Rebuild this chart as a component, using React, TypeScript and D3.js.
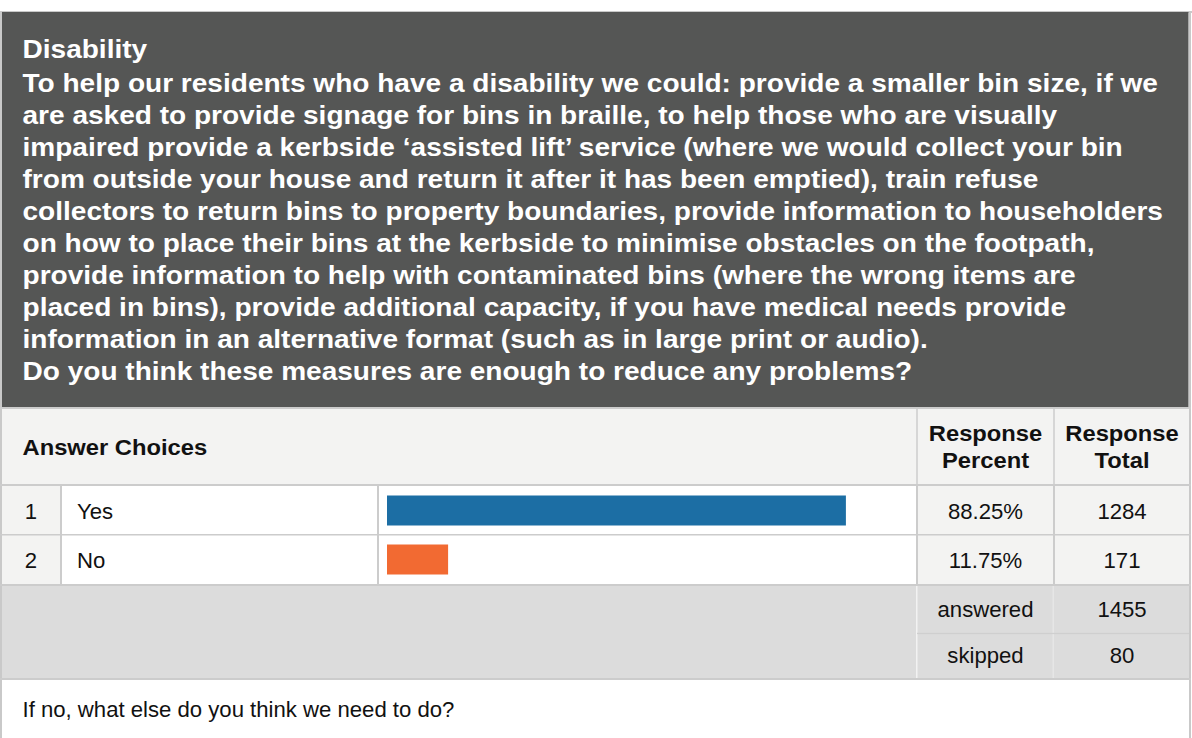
import React from "react";
import * as d3 from "d3";

const titleHeading = "Disability";
const titleLines = [
  "To help our residents who have a disability we could: provide a smaller bin size, if we",
  "are asked to provide signage for bins in braille, to help those who are visually",
  "impaired provide a kerbside \u2018assisted lift\u2019 service (where we would collect your bin",
  "from outside your house and return it after it has been emptied), train refuse",
  "collectors to return bins to property boundaries, provide information to householders",
  "on how to place their bins at the kerbside to minimise obstacles on the footpath,",
  "provide information to help with contaminated bins (where the wrong items are",
  "placed in bins), provide additional capacity, if you have medical needs provide",
  "information in an alternative format (such as in large print or audio).",
  "Do you think these measures are enough to reduce any problems?",
];
const choiceNumbers = ["1", "2"];
const choices = ["Yes", "No"];
const percents = [88.25, 11.75];
const totals = [1284, 171];
const barColors = ["#1c6ea4", "#f26a32"];
const summaryLabels = ["answered", "skipped"];
const summaryValues = [1455, 80];
const headerLabel = "Answer Choices";
const percentHeader = ["Response", "Percent"];
const totalHeader = ["Response", "Total"];
const followUp = "If no, what else do you think we need to do?";

const FONT = '"Liberation Sans", Arial, Helvetica, sans-serif';

function T({ x, y, anchor = "start", size = 21.5, sx = 1.03, weight = "normal", fill = "#111", children }: any) {
  return (
    <text
      transform={`translate(${x},${y}) scale(${sx},1)`}
      textAnchor={anchor}
      fontSize={size}
      fontWeight={weight}
      fill={fill}
      fontFamily={FONT}
    >
      {children}
    </text>
  );
}

export default function App() {
  const W = 1192;
  const H = 738;
  const x = d3.scaleLinear().domain([0, 100]).range([387, 907]);
  const y = d3.scaleBand<string>().domain(choices).range([486, 584]).paddingInner(0).paddingOuter(0);
  const sumY = d3.scaleBand<string>().domain(summaryLabels).range([586, 679]);
  const bw = y.bandwidth();
  const barH = 30;
  const border = "#cccccc";
  const light = "#f3f3f2";
  const grey = "#dcdcdc";
  const pctX = 985.5;
  const totX = 1122;

  return (
    <svg width={W} height={H} style={{ position: "absolute", left: 0, top: 0, display: "block" }}>
      <rect x={0} y={0} width={W} height={H} fill="#ffffff" />
      <rect x={0} y={11} width={1192} height={2} fill="#c9c9c9" />
      <rect x={0} y={11} width={2} height={H - 11} fill="#c9c9c9" />
      <rect x={1189} y={11} width={2} height={H - 11} fill="#c9c9c9" />
      <rect x={2} y={12} width={1186.5} height={395} fill="#555655" />
      <T x={22.5} y={57.5} size={25.5} sx={1.1} weight="bold" fill="#ffffff">{titleHeading}</T>
      {titleLines.map((l, i) => (
        <T key={i} x={22.5} y={91.8 + i * 32.05} size={25.5} sx={1.1} weight="bold" fill="#ffffff">{l}</T>
      ))}
      <rect x={0} y={407} width={1191} height={2} fill={border} />
      <rect x={2} y={409} width={1187} height={75} fill={light} />
      <rect x={916} y={409} width={2} height={75} fill="#d6d6d6" />
      <rect x={1053} y={409} width={2} height={75} fill="#d6d6d6" />
      <T x={22.5} y={455} size={22} sx={1.08} weight="bold" fill="#111">{headerLabel}</T>
      {percentHeader.map((t, i) => (
        <T key={"p" + i} x={pctX} y={441 + i * 27.3} anchor="middle" size={22} sx={1.08} weight="bold">{t}</T>
      ))}
      {totalHeader.map((t, i) => (
        <T key={"t" + i} x={totX} y={441 + i * 27.3} anchor="middle" size={22} sx={1.08} weight="bold">{t}</T>
      ))}
      <rect x={0} y={484} width={1191} height={2} fill={border} />
      {choices.map((c, i) => {
        const y0 = y(c)!;
        const cy = y0 + bw / 2;
        return (
          <g key={c}>
            <rect x={2} y={y0} width={58} height={bw} fill={light} />
            <rect x={62} y={y0} width={315} height={bw} fill="#ffffff" />
            <rect x={379} y={y0} width={537} height={bw} fill="#ffffff" />
            <rect x={918} y={y0} width={135} height={bw} fill={light} />
            <rect x={1055} y={y0} width={134} height={bw} fill={light} />
            <rect x={x(0)} y={cy - barH / 2} width={x(percents[i]) - x(0)} height={barH} fill={barColors[i]} />
            <T x={31} y={cy + 8} anchor="middle">{choiceNumbers[i]}</T>
            <T x={77} y={cy + 8}>{c}</T>
            <T x={pctX} y={cy + 8} anchor="middle">{percents[i].toFixed(2) + "%"}</T>
            <T x={totX} y={cy + 8} anchor="middle">{totals[i]}</T>
          </g>
        );
      })}
      <rect x={0} y={534} width={1191} height={1.5} fill={border} />
      <rect x={60} y={486} width={2} height={98} fill={border} />
      <rect x={377} y={486} width={2} height={98} fill={border} />
      <rect x={916} y={486} width={2} height={98} fill={border} />
      <rect x={1053} y={486} width={2} height={98} fill={border} />
      <rect x={0} y={584} width={1191} height={2} fill={border} />
      <rect x={2} y={586} width={1187} height={92} fill={grey} />
      <rect x={916} y={586} width={1.5} height={92} fill="#f2f2f2" />
      <rect x={1052.5} y={586} width={1.5} height={92} fill="#e6e6e6" />
      <rect x={917} y={632.8} width={272} height={1.3} fill="#cfcfcf" />
      {summaryLabels.map((s, i) => {
        const cy = sumY(s)! + sumY.bandwidth() / 2;
        return (
          <g key={s}>
            <T x={pctX} y={cy + 7.5} anchor="middle">{s}</T>
            <T x={totX} y={cy + 7.5} anchor="middle">{summaryValues[i]}</T>
          </g>
        );
      })}
      <rect x={0} y={678} width={1191} height={2} fill={border} />
      <T x={22.5} y={717}>{followUp}</T>
    </svg>
  );
}
